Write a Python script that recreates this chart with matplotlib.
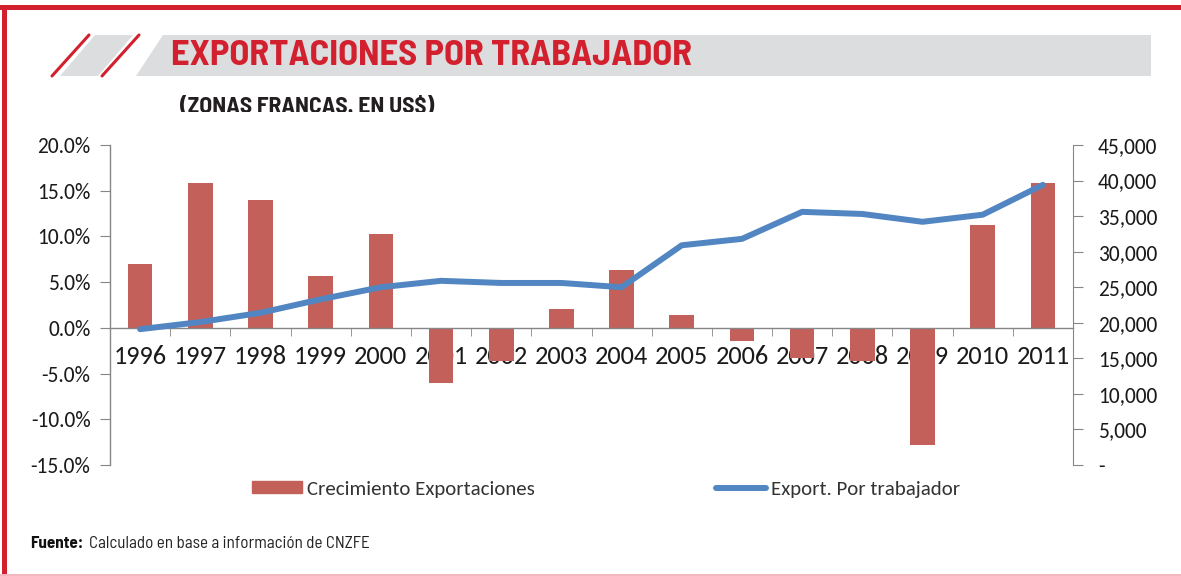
import matplotlib.pyplot as plt
import matplotlib.patches as mpatches
from matplotlib.lines import Line2D
import numpy as np

# data
years = ['1996', '1997', '1998', '1999', '2000', '2001', '2002', '2003',
         '2004', '2005', '2006', '2007', '2008', '2009', '2010', '2011']
crecimiento = [7.0, 15.8, 14.0, 5.7, 10.3, -6.0, -3.6, 2.1,
               6.3, 1.4, -1.4, -3.3, -3.6, -12.8, 11.3, 15.8]
export_trab = [19100, 20100, 21400, 23300, 25000, 25900, 25600, 25600,
               25000, 30900, 31800, 35600, 35300, 34200, 35200, 39400]

RED = '#D2202F'
GRAY = '#DCDDDE'
BAR = '#C4605A'
LINE = '#5286C2'
AXC = '#868686'

W, H = 1181, 576
fig = plt.figure(figsize=(W / 100, H / 100), dpi=100)

def fx(px):
    return px / W

def fy(py):
    return 1 - py / H

# frame
fig.add_artist(mpatches.Rectangle((0, fy(10)), 1, fy(5) - fy(10), transform=fig.transFigure, color=RED, lw=0))
fig.add_artist(mpatches.Rectangle((fx(2), 0), fx(5), fy(5), transform=fig.transFigure, color=RED, lw=0))
fig.add_artist(mpatches.Rectangle((0, fy(576)), 1, fy(574) - fy(576), transform=fig.transFigure, color='#F2B8BE', lw=0))

# header slashes and banner
def poly(pts, color):
    fig.add_artist(mpatches.Polygon([(fx(x), fy(y)) for x, y in pts], closed=True,
                                    transform=fig.transFigure, color=color, lw=0))

poly([(60, 76), (95, 35), (133, 35), (98, 76)], GRAY)
poly([(136, 76), (163, 35), (1151, 35), (1151, 76)], GRAY)
for x0 in (52, 102):
    fig.add_artist(Line2D([fx(x0), fx(x0 + 37)], [fy(76), fy(35)], transform=fig.transFigure,
                          color=RED, lw=2.2, solid_capstyle='round'))

cond = ['Barlow Semi Condensed', 'DejaVu Sans']
calib = ['Carlito', 'Lato', 'DejaVu Sans']

fig.text(fx(171), fy(56), 'EXPORTACIONES POR TRABAJADOR', family=cond, weight='bold',
         fontsize=26.3, color=RED, va='center', ha='left')
fig.text(fx(180), fy(107), '(ZONAS FRANCAS. EN US$)', family=cond, weight='bold',
         fontsize=17, color='#231F20', va='center', ha='left')
# the chart image cuts the subtitle at the bottom
fig.add_artist(mpatches.Rectangle((fx(150), fy(125)), fx(400), fy(112) - fy(125),
                                  transform=fig.transFigure, color='white', lw=0, zorder=5))

# chart
ax = fig.add_axes([fx(110), fy(465), fx(1073) - fx(110), fy(145) - fy(465)])
x = np.arange(len(years))
ax.bar(x, crecimiento, width=0.41, color=BAR, zorder=2)
ax.set_xlim(-0.5, len(years) - 0.5)
ax.set_ylim(-15, 20)
ax.set_yticks(np.arange(-15, 20.1, 5))
ax.set_yticklabels(['%.1f%%' % v for v in np.arange(-15, 20.1, 5)])

ax.spines['top'].set_visible(False)
ax.spines['right'].set_visible(False)
ax.spines['bottom'].set_position(('data', 0))
for s in ('left', 'bottom'):
    ax.spines[s].set_color(AXC)
    ax.spines[s].set_linewidth(1)

ax.set_xticks(x)
ax.set_xticklabels(years)
ax.set_xticks(np.arange(-0.5, len(years)), minor=True)
ax.tick_params(axis='x', which='major', length=0, pad=12, labelsize=19, labelcolor='#1a1a1a')
ax.tick_params(axis='x', which='minor', length=6, direction='out', color=AXC)
ax.tick_params(axis='y', length=7, color=AXC, pad=7, labelsize=15.5, labelcolor='#1a1a1a')

ax2 = ax.twinx()
ax2.plot(x, export_trab, color=LINE, lw=4.3, solid_capstyle='round', solid_joinstyle='round', zorder=3)
ax2.set_ylim(0, 45000)
ax2.set_yticks(np.arange(0, 45001, 5000))
ax2.set_yticklabels(['-' if v == 0 else '{:,.0f}'.format(v) for v in np.arange(0, 45001, 5000)])
for s in ('top', 'bottom', 'left'):
    ax2.spines[s].set_visible(False)
ax2.spines['right'].set_color(AXC)
ax2.tick_params(axis='y', length=7, color=AXC, pad=11, labelsize=15.5, labelcolor='#1a1a1a')

for a in (ax, ax2):
    for lab in a.get_xticklabels() + a.get_yticklabels():
        lab.set_family(calib)

# legend
h1 = mpatches.Patch(color=BAR)
h2 = Line2D([], [], color=LINE, lw=4.3, solid_capstyle='round')
leg = fig.legend([h1, h2], ['Crecimiento Exportaciones', 'Export. Por trabajador'],
                 loc='center left', bbox_to_anchor=(fx(233), fy(489)), ncol=2, frameon=False,
                 handlelength=2.4, handleheight=0.45, handletextpad=0.25, columnspacing=8.7,
                 prop={'family': calib, 'size': 15})
for t in leg.get_texts():
    t.set_color('#333333')

# source
fig.text(fx(30), fy(544), 'Fuente:', family=cond, weight='bold', fontsize=12.3,
         color='#111111', va='center')
fig.text(fx(89), fy(544), 'Calculado en base a información de CNZFE', family=cond,
         fontsize=12.3, color='#222222', va='center')

fig.savefig('out.png', dpi=100)
